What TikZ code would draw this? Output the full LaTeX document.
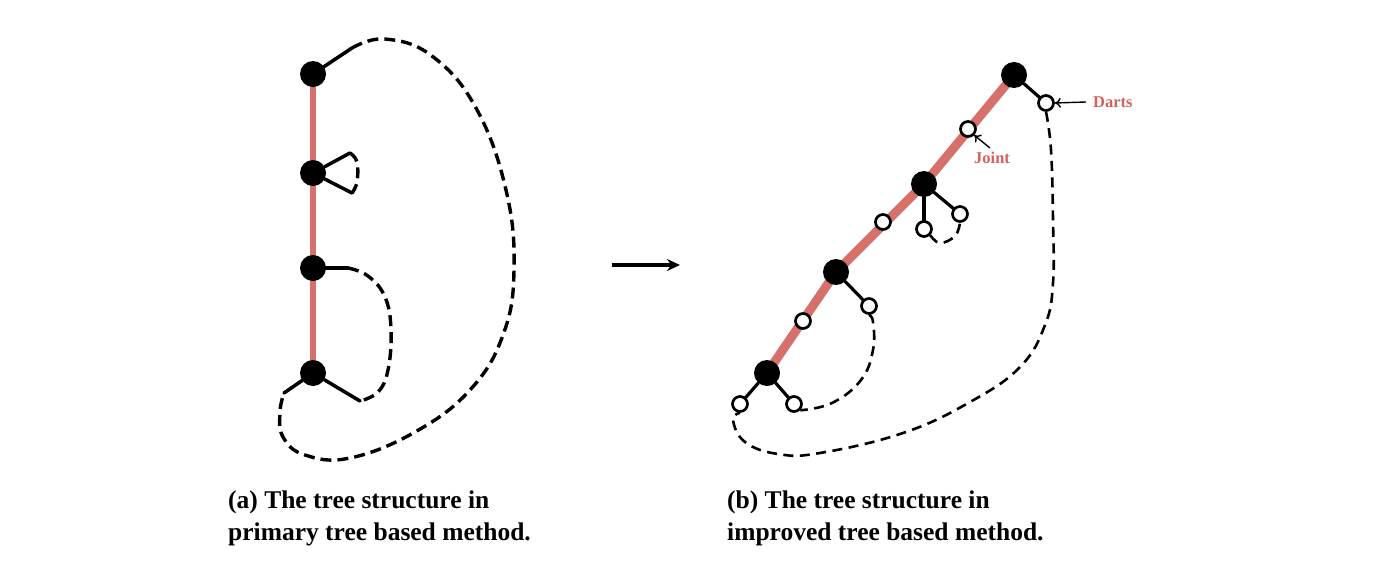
\documentclass[tikz,border=0pt]{standalone}
\usepackage{fontspec}
\setmainfont{Liberation Serif}
\usetikzlibrary{arrows.meta,backgrounds}
\definecolor{treered}{RGB}{214,112,106}
\definecolor{labred}{RGB}{212,98,92}
\tikzset{
  bnode/.style={circle,fill=black,inner sep=0pt,minimum size=26pt},
  wnode/.style={circle,draw=black,fill=white,line width=2.7pt,inner sep=0pt,minimum size=15pt},
  redline/.style={draw=treered,line width=6pt},
  redthick/.style={draw=treered,line width=9pt},
  solidl/.style={line width=3.5pt,line cap=round},
  dashl/.style={line width=3.4pt,dash pattern=on 11pt off 6pt},
  solidr/.style={line width=3.2pt,line cap=round},
  dashr/.style={line width=2.6pt,dash pattern=on 10pt off 6.5pt},
  lab/.style={text=labred,font=\bfseries\fontsize{16.5}{18}\selectfont,inner sep=0pt},
  captext/.style={font=\bfseries\fontsize{25.5}{30}\selectfont,inner sep=0pt,anchor=base west}
}
\begin{document}
\begin{tikzpicture}[x=1pt,y=-1pt]
\useasboundingbox (0,0) rectangle (1380,578);
% ---------- left panel ----------
\node[bnode] (a1) at (313,74) {};
\node[bnode] (a2) at (313,173) {};
\node[bnode] (a3) at (313,268) {};
\node[bnode] (a4) at (313,373) {};
\begin{scope}[on background layer]
\draw[redline] (a1.center) -- (a4.center);
\end{scope}
\coordinate (p1) at (352,48);
\coordinate (p2) at (284,393);
\coordinate (q1) at (350,153);
\coordinate (q2) at (352,193);
\coordinate (r1) at (348,268);
\coordinate (r2) at (360,401);
\draw[solidl] (a1) -- (p1);
\draw[dashl] plot[smooth,tension=0.7] coordinates {(p1) (385,39) (432,56) (476,108) (506,190) (514,270) (503,335) (470,390) (415,432) (350,458) (305,455) (283,437) (280,412) (p2)};
\draw[solidl] (p2) -- (a4);
\draw[solidl] (a2) -- (q1);
\draw[solidl] (a2) -- (q2);
\draw[dashl] plot[smooth,tension=0.7] coordinates {(q1) (357,162) (357,182) (q2)};
\draw[solidl] (a3) -- (r1);
\draw[dashl] plot[smooth,tension=0.7] coordinates {(r1) (368,276) (385,297) (391,330) (388,370) (378,392) (r2)};
\draw[solidl] (a4) -- (r2);
% ---------- arrow ----------
\coordinate (ar1) at (612,265);
\coordinate (ar2) at (680,265);
\draw[line width=3.4pt,-{Stealth[length=13pt,width=12pt]}] (ar1) -- (ar2);
% ---------- right panel ----------
\node[bnode] (b1) at (1014,75) {};
\node[bnode] (b2) at (924,184) {};
\node[bnode] (b3) at (836,272) {};
\node[bnode] (b4) at (767,373) {};
\begin{scope}[on background layer]
\draw[redthick,line join=round] (b1.center) -- (b2.center) -- (b3.center) -- (b4.center);
\end{scope}
\node[wnode] (j1) at (968,129) {};
\node[wnode] (j2) at (883,222) {};
\node[wnode] (j3) at (803,321) {};
\draw[solidr] (b1) -- (1046,103) node[wnode] (d1) {};
\draw[solidr] (b2) -- (924,229) node[wnode] (d2a) {};
\draw[solidr] (b2) -- (960,214) node[wnode] (d2b) {};
\draw[solidr] (b3) -- (869,306) node[wnode] (d3) {};
\draw[solidr] (b4) -- (740,404) node[wnode] (d4a) {};
\draw[solidr] (b4) -- (794,404) node[wnode] (d4b) {};
\draw[dashr] plot[smooth,tension=0.7] coordinates {(d1.south) (1051,150) (1053,220) (1053,283) (1045,325) (1020,367) (970,402) (903,433) (820,453) (778,454) (745,442) (733,420) (d4a.south)};
\draw[dashr] plot[smooth,tension=0.7] coordinates {(d2a.south east) (940,243) (955,236) (d2b.south)};
\draw[dashr] plot[smooth,tension=0.7] coordinates {(d3.south) (873,322) (873,350) (861,380) (832,403) (d4b.south east)};
% labels
\node[lab,anchor=west] (darts) at (1093,102) {Darts};
\node[lab,anchor=north west] (joint) at (974,152) {Joint};
\coordinate (dt) at (1086,102);
\draw[line width=1.4pt,-{To[length=6pt,width=10pt]}] (dt) -- (d1.east);
\coordinate (jt) at (990,148);
\draw[line width=1.4pt,-{To[length=6pt,width=10pt]}] (jt) -- (j1.south east);
% captions
\node[captext] (c1) at (228,508) {(a) The tree structure in};
\node[captext] (c2) at (228,540) {primary tree based method.};
\node[captext] (c3) at (727,508) {(b) The tree structure in};
\node[captext] (c4) at (727,540) {improved tree based method.};
\end{tikzpicture}
\end{document}
